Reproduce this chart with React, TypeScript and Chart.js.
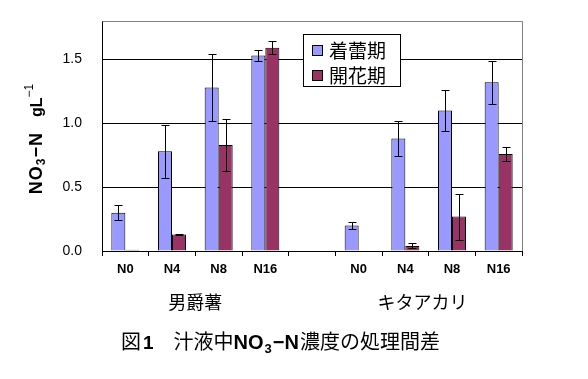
import React, { useEffect, useRef } from "react";
import { Chart, registerables } from "chart.js";

Chart.register(...registerables);

const categories = ["N0", "N4", "N8", "N16", "", "N0", "N4", "N8", "N16"];
const seriesNames = ["着蕾期", "開花期"];
const budValues = [0.3, 0.78, 1.28, 1.53, null, 0.2, 0.88, 1.1, 1.32];
const budErrors = [0.06, 0.21, 0.26, 0.045, null, 0.03, 0.14, 0.16, 0.17];
const flowerValues = [0.01, 0.13, 0.83, 1.59, null, 0, 0.04, 0.27, 0.76];
const flowerErrors = [0, 0.005, 0.2, 0.05, null, 0, 0.02, 0.18, 0.055];
const groupLabels = ["男爵薯", "キタアカリ"];
const groupCenters = [1.5, 6.37];
const yTicks = [0, 0.5, 1.0, 1.5];
const yMax = 1.8;

const colors = ["#9999FF", "#993366"];
const CJK = '"Noto Sans CJK JP", sans-serif';
const LAT = '"Liberation Sans", Arial, sans-serif';

const errorBarPlugin = {
  id: "errorBars",
  afterDatasetsDraw(chart: any) {
    const ctx = chart.ctx;
    const ys = chart.scales.y;
    ctx.save();
    ctx.strokeStyle = "#000";
    ctx.lineWidth = 1;
    chart.data.datasets.forEach((ds: any, di: number) => {
      const meta = chart.getDatasetMeta(di);
      ds.data.forEach((v: any, i: number) => {
        const e = ds.errors[i];
        if (v == null || e == null || e <= 0) return;
        const bar = meta.data[i];
        const x = Math.round(bar.x) + 0.5;
        const yT = Math.round(ys.getPixelForValue(v + e)) + 0.5;
        const yB = Math.round(ys.getPixelForValue(Math.max(0, v - e))) + 0.5;
        ctx.beginPath();
        ctx.moveTo(x, yT);
        ctx.lineTo(x, yB);
        ctx.moveTo(x - 4, yT);
        ctx.lineTo(x + 4, yT);
        ctx.moveTo(x - 4, yB);
        ctx.lineTo(x + 4, yB);
        ctx.stroke();
      });
    });
    ctx.restore();
  },
};

function drawSeq(ctx: any, parts: any[], x: number, y: number) {
  let cx = x;
  for (const p of parts) {
    ctx.font = p.font;
    ctx.fillText(p.t, cx, y + (p.dy || 0));
    cx += ctx.measureText(p.t).width + (p.gap || 0);
  }
  return cx;
}
function seqWidth(ctx: any, parts: any[]) {
  let w = 0;
  for (const p of parts) {
    ctx.font = p.font;
    w += ctx.measureText(p.t).width + (p.gap || 0);
  }
  return w;
}

const decorPlugin = {
  id: "decor",
  afterDraw(chart: any) {
    const ctx = chart.ctx;
    const a = chart.chartArea;
    const xs = chart.scales.x;
    ctx.save();
    // frame top/right
    ctx.strokeStyle = "#808080";
    ctx.lineWidth = 1;
    ctx.beginPath();
    ctx.moveTo(Math.round(a.left) + 0.5, Math.round(a.top) + 0.5);
    ctx.lineTo(Math.round(a.right) + 0.5, Math.round(a.top) + 0.5);
    ctx.lineTo(Math.round(a.right) + 0.5, Math.round(a.bottom));
    ctx.stroke();

    // legend
    const lx = 303, ly = 34, lw = 97, lh = 52;
    ctx.fillStyle = "#fff";
    ctx.fillRect(lx, ly, lw, lh);
    ctx.strokeStyle = "#000";
    ctx.strokeRect(lx + 0.5, ly + 0.5, lw, lh);
    seriesNames.forEach((n, i) => {
      const cy = ly + 16 + i * 25;
      ctx.fillStyle = colors[i];
      ctx.fillRect(312, cy - 5, 10, 10);
      ctx.strokeStyle = "#000";
      ctx.strokeRect(312.5, cy - 4.5, 10, 10);
      ctx.fillStyle = "#000";
      ctx.font = `19px ${CJK}`;
      ctx.textAlign = "left";
      ctx.textBaseline = "middle";
      ctx.fillText(n, 329, cy + 1);
    });

    // group labels
    ctx.fillStyle = "#000";
    ctx.textAlign = "center";
    ctx.textBaseline = "middle";
    ctx.font = `18px ${CJK}`;
    groupLabels.forEach((g, i) => {
      ctx.fillText(g, xs.getPixelForValue(groupCenters[i]), 302);
    });

    // bottom title
    ctx.textAlign = "left";
    ctx.textBaseline = "alphabetic";
    const tParts = [
      { t: "図", font: `20px ${CJK}`, gap: 2 },
      { t: "1", font: `bold 19px ${LAT}`, gap: 20 },
      { t: "汁液中", font: `20px ${CJK}` },
      { t: "NO", font: `bold 20px ${LAT}`, gap: 1 },
      { t: "3", font: `bold 13px ${LAT}`, dy: 4, gap: 1 },
      { t: "−N", font: `bold 20px ${LAT}`, gap: 1 },
      { t: "濃度の処理間差", font: `20px ${CJK}` },
    ];
    drawSeq(ctx, tParts, 121, 349);

    // y title rotated
    const yParts = [
      { t: "N", font: `bold 18px ${LAT}`, gap: 1 },
      { t: "O", font: `bold 18px ${LAT}`, gap: 1 },
      { t: "3", font: `bold 12px ${LAT}`, dy: 3, gap: 1 },
      { t: "−", font: `bold 18px ${LAT}`, gap: 1 },
      { t: "N", font: `bold 18px ${LAT}`, gap: 16 },
      { t: "gL", font: `bold 16px ${LAT}` },
      { t: "−1", font: `12px ${LAT}`, dy: -9, gap: 0 },
    ];
    ctx.translate(42, 139);
    ctx.rotate(-Math.PI / 2);
    const w = seqWidth(ctx, yParts);
    drawSeq(ctx, yParts, -w / 2, 0);
    ctx.restore();
  },
};

export default function App() {
  const ref = useRef<HTMLCanvasElement>(null);
  useEffect(() => {
    const chart = new Chart(ref.current as HTMLCanvasElement, {
      type: "bar",
      data: {
        labels: categories,
        datasets: [
          {
            label: seriesNames[0],
            data: budValues as any,
            errors: budErrors,
            backgroundColor: colors[0],
            borderColor: "#000",
            borderWidth: 1,
          } as any,
          {
            label: seriesNames[1],
            data: flowerValues as any,
            errors: flowerErrors,
            backgroundColor: colors[1],
            borderColor: "#000",
            borderWidth: 1,
          } as any,
        ],
      },
      options: {
        animation: false,
        responsive: false,
        devicePixelRatio: 1,
        layout: { padding: { left: 0, right: 66, top: 21, bottom: 0 } },
        datasets: { bar: { categoryPercentage: 0.6, barPercentage: 1 } },
        plugins: { legend: { display: false }, tooltip: { enabled: false }, title: { display: false } },
        scales: {
          x: {
            grid: { offset: true, drawOnChartArea: false, drawTicks: true, tickLength: 5, color: "#000" },
            border: { color: "#000", width: 1 },
            ticks: { color: "#000", font: { family: LAT, size: 13, weight: "bold" }, padding: 6, maxRotation: 0, autoSkip: false },
            afterFit: (s: any) => {
              s.height = 128;
              s.paddingLeft = 0;
              s.paddingRight = 0;
            },
          },
          y: {
            min: 0,
            max: yMax,
            afterBuildTicks: (s: any) => { s.ticks = yTicks.map((v) => ({ value: v })); },
            grid: { color: "#000", drawTicks: false },
            border: { color: "#000", width: 1 },
            ticks: {
              color: "#000",
              font: { family: LAT, size: 14 },
              padding: 20,
              callback: (v: any) => Number(v).toFixed(1),
            },
            afterFit: (s: any) => {
              s.width = 102;
              s.paddingTop = 0;
              s.paddingBottom = 0;
            },
          },
        },
      } as any,
      plugins: [errorBarPlugin, decorPlugin],
    });
    return () => chart.destroy();
  }, []);
  return (
    <div style={{ position: "absolute", left: 0, top: 0, width: 588, height: 379, background: "#fff" }}>
      <canvas ref={ref} width={588} height={379} style={{ width: 588, height: 379 }} />
    </div>
  );
}
